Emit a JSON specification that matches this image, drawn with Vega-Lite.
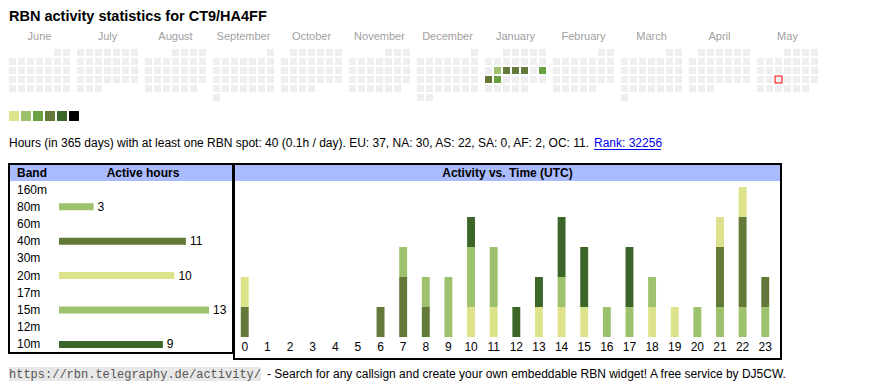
{
  "$schema": "https://vega.github.io/schema/vega-lite/v6.json",
  "padding": {"left": 8, "top": 8, "right": 5, "bottom": 5},
  "background": "#ffffff",
  "config": {
    "font": "Liberation Sans",
    "view": {"stroke": null},
    "text": {"font": "Liberation Sans", "fontSize": 12, "color": "#000000"}
  },
  "title": {
    "text": "RBN activity statistics for CT9/HA4FF",
    "anchor": "start",
    "frame": "group",
    "font": "Liberation Sans",
    "fontSize": 14.5,
    "fontWeight": "bold",
    "color": "#000000",
    "offset": 6
  },
  "resolve": {"scale": {"color": "independent"}},
  "spacing": 10,
  "datasets": {
    "days": [
      {"m":"June","c":5,"r":0},{"m":"June","c":6,"r":0},
      {"m":"June","c":0,"r":1},{"m":"June","c":1,"r":1},{"m":"June","c":2,"r":1},{"m":"June","c":3,"r":1},{"m":"June","c":4,"r":1},{"m":"June","c":5,"r":1},{"m":"June","c":6,"r":1},
      {"m":"June","c":0,"r":2},{"m":"June","c":1,"r":2},{"m":"June","c":2,"r":2},{"m":"June","c":3,"r":2},{"m":"June","c":4,"r":2},{"m":"June","c":5,"r":2},{"m":"June","c":6,"r":2},
      {"m":"June","c":0,"r":3},{"m":"June","c":1,"r":3},{"m":"June","c":2,"r":3},{"m":"June","c":3,"r":3},{"m":"June","c":4,"r":3},{"m":"June","c":5,"r":3},{"m":"June","c":6,"r":3},
      {"m":"June","c":0,"r":4},{"m":"June","c":1,"r":4},{"m":"June","c":2,"r":4},{"m":"June","c":3,"r":4},{"m":"June","c":4,"r":4},{"m":"June","c":5,"r":4},{"m":"June","c":6,"r":4},
      {"m":"July","c":0,"r":0},{"m":"July","c":1,"r":0},{"m":"July","c":2,"r":0},{"m":"July","c":3,"r":0},{"m":"July","c":4,"r":0},{"m":"July","c":5,"r":0},{"m":"July","c":6,"r":0},
      {"m":"July","c":0,"r":1},{"m":"July","c":1,"r":1},{"m":"July","c":2,"r":1},{"m":"July","c":3,"r":1},{"m":"July","c":4,"r":1},{"m":"July","c":5,"r":1},{"m":"July","c":6,"r":1},
      {"m":"July","c":0,"r":2},{"m":"July","c":1,"r":2},{"m":"July","c":2,"r":2},{"m":"July","c":3,"r":2},{"m":"July","c":4,"r":2},{"m":"July","c":5,"r":2},{"m":"July","c":6,"r":2},
      {"m":"July","c":0,"r":3},{"m":"July","c":1,"r":3},{"m":"July","c":2,"r":3},{"m":"July","c":3,"r":3},{"m":"July","c":4,"r":3},{"m":"July","c":5,"r":3},{"m":"July","c":6,"r":3},
      {"m":"July","c":0,"r":4},{"m":"July","c":1,"r":4},{"m":"July","c":2,"r":4},
      {"m":"August","c":3,"r":0},{"m":"August","c":4,"r":0},{"m":"August","c":5,"r":0},{"m":"August","c":6,"r":0},
      {"m":"August","c":0,"r":1},{"m":"August","c":1,"r":1},{"m":"August","c":2,"r":1},{"m":"August","c":3,"r":1},{"m":"August","c":4,"r":1},{"m":"August","c":5,"r":1},{"m":"August","c":6,"r":1},
      {"m":"August","c":0,"r":2},{"m":"August","c":1,"r":2},{"m":"August","c":2,"r":2},{"m":"August","c":3,"r":2},{"m":"August","c":4,"r":2},{"m":"August","c":5,"r":2},{"m":"August","c":6,"r":2},
      {"m":"August","c":0,"r":3},{"m":"August","c":1,"r":3},{"m":"August","c":2,"r":3},{"m":"August","c":3,"r":3},{"m":"August","c":4,"r":3},{"m":"August","c":5,"r":3},{"m":"August","c":6,"r":3},
      {"m":"August","c":0,"r":4},{"m":"August","c":1,"r":4},{"m":"August","c":2,"r":4},{"m":"August","c":3,"r":4},{"m":"August","c":4,"r":4},{"m":"August","c":5,"r":4},
      {"m":"September","c":6,"r":0},
      {"m":"September","c":0,"r":1},{"m":"September","c":1,"r":1},{"m":"September","c":2,"r":1},{"m":"September","c":3,"r":1},{"m":"September","c":4,"r":1},{"m":"September","c":5,"r":1},{"m":"September","c":6,"r":1},
      {"m":"September","c":0,"r":2},{"m":"September","c":1,"r":2},{"m":"September","c":2,"r":2},{"m":"September","c":3,"r":2},{"m":"September","c":4,"r":2},{"m":"September","c":5,"r":2},{"m":"September","c":6,"r":2},
      {"m":"September","c":0,"r":3},{"m":"September","c":1,"r":3},{"m":"September","c":2,"r":3},{"m":"September","c":3,"r":3},{"m":"September","c":4,"r":3},{"m":"September","c":5,"r":3},{"m":"September","c":6,"r":3},
      {"m":"September","c":0,"r":4},{"m":"September","c":1,"r":4},{"m":"September","c":2,"r":4},{"m":"September","c":3,"r":4},{"m":"September","c":4,"r":4},{"m":"September","c":5,"r":4},{"m":"September","c":6,"r":4},
      {"m":"September","c":0,"r":5},
      {"m":"October","c":1,"r":0},{"m":"October","c":2,"r":0},{"m":"October","c":3,"r":0},{"m":"October","c":4,"r":0},{"m":"October","c":5,"r":0},{"m":"October","c":6,"r":0},
      {"m":"October","c":0,"r":1},{"m":"October","c":1,"r":1},{"m":"October","c":2,"r":1},{"m":"October","c":3,"r":1},{"m":"October","c":4,"r":1},{"m":"October","c":5,"r":1},{"m":"October","c":6,"r":1},
      {"m":"October","c":0,"r":2},{"m":"October","c":1,"r":2},{"m":"October","c":2,"r":2},{"m":"October","c":3,"r":2},{"m":"October","c":4,"r":2},{"m":"October","c":5,"r":2},{"m":"October","c":6,"r":2},
      {"m":"October","c":0,"r":3},{"m":"October","c":1,"r":3},{"m":"October","c":2,"r":3},{"m":"October","c":3,"r":3},{"m":"October","c":4,"r":3},{"m":"October","c":5,"r":3},{"m":"October","c":6,"r":3},
      {"m":"October","c":0,"r":4},{"m":"October","c":1,"r":4},{"m":"October","c":2,"r":4},{"m":"October","c":3,"r":4},
      {"m":"November","c":4,"r":0},{"m":"November","c":5,"r":0},{"m":"November","c":6,"r":0},
      {"m":"November","c":0,"r":1},{"m":"November","c":1,"r":1},{"m":"November","c":2,"r":1},{"m":"November","c":3,"r":1},{"m":"November","c":4,"r":1},{"m":"November","c":5,"r":1},{"m":"November","c":6,"r":1},
      {"m":"November","c":0,"r":2},{"m":"November","c":1,"r":2},{"m":"November","c":2,"r":2},{"m":"November","c":3,"r":2},{"m":"November","c":4,"r":2},{"m":"November","c":5,"r":2},{"m":"November","c":6,"r":2},
      {"m":"November","c":0,"r":3},{"m":"November","c":1,"r":3},{"m":"November","c":2,"r":3},{"m":"November","c":3,"r":3},{"m":"November","c":4,"r":3},{"m":"November","c":5,"r":3},{"m":"November","c":6,"r":3},
      {"m":"November","c":0,"r":4},{"m":"November","c":1,"r":4},{"m":"November","c":2,"r":4},{"m":"November","c":3,"r":4},{"m":"November","c":4,"r":4},{"m":"November","c":5,"r":4},
      {"m":"December","c":6,"r":0},
      {"m":"December","c":0,"r":1},{"m":"December","c":1,"r":1},{"m":"December","c":2,"r":1},{"m":"December","c":3,"r":1},{"m":"December","c":4,"r":1},{"m":"December","c":5,"r":1},{"m":"December","c":6,"r":1},
      {"m":"December","c":0,"r":2},{"m":"December","c":1,"r":2},{"m":"December","c":2,"r":2},{"m":"December","c":3,"r":2},{"m":"December","c":4,"r":2},{"m":"December","c":5,"r":2},{"m":"December","c":6,"r":2},
      {"m":"December","c":0,"r":3},{"m":"December","c":1,"r":3},{"m":"December","c":2,"r":3},{"m":"December","c":3,"r":3},{"m":"December","c":4,"r":3},{"m":"December","c":5,"r":3},{"m":"December","c":6,"r":3},
      {"m":"December","c":0,"r":4},{"m":"December","c":1,"r":4},{"m":"December","c":2,"r":4},{"m":"December","c":3,"r":4},{"m":"December","c":4,"r":4},{"m":"December","c":5,"r":4},{"m":"December","c":6,"r":4},
      {"m":"December","c":0,"r":5},{"m":"December","c":1,"r":5},
      {"m":"January","c":2,"r":0},{"m":"January","c":3,"r":0},{"m":"January","c":4,"r":0},{"m":"January","c":5,"r":0},{"m":"January","c":6,"r":0},
      {"m":"January","c":0,"r":1},{"m":"January","c":1,"r":1},{"m":"January","c":2,"r":1},{"m":"January","c":3,"r":1},{"m":"January","c":4,"r":1},{"m":"January","c":5,"r":1},{"m":"January","c":6,"r":1},
      {"m":"January","c":0,"r":2},{"m":"January","c":1,"r":2},{"m":"January","c":2,"r":2},{"m":"January","c":3,"r":2},{"m":"January","c":4,"r":2},{"m":"January","c":5,"r":2},{"m":"January","c":6,"r":2},
      {"m":"January","c":0,"r":3},{"m":"January","c":1,"r":3},{"m":"January","c":2,"r":3},{"m":"January","c":3,"r":3},{"m":"January","c":4,"r":3},{"m":"January","c":5,"r":3},{"m":"January","c":6,"r":3},
      {"m":"January","c":0,"r":4},{"m":"January","c":1,"r":4},{"m":"January","c":2,"r":4},{"m":"January","c":3,"r":4},{"m":"January","c":4,"r":4},
      {"m":"February","c":5,"r":0},{"m":"February","c":6,"r":0},
      {"m":"February","c":0,"r":1},{"m":"February","c":1,"r":1},{"m":"February","c":2,"r":1},{"m":"February","c":3,"r":1},{"m":"February","c":4,"r":1},{"m":"February","c":5,"r":1},{"m":"February","c":6,"r":1},
      {"m":"February","c":0,"r":2},{"m":"February","c":1,"r":2},{"m":"February","c":2,"r":2},{"m":"February","c":3,"r":2},{"m":"February","c":4,"r":2},{"m":"February","c":5,"r":2},{"m":"February","c":6,"r":2},
      {"m":"February","c":0,"r":3},{"m":"February","c":1,"r":3},{"m":"February","c":2,"r":3},{"m":"February","c":3,"r":3},{"m":"February","c":4,"r":3},{"m":"February","c":5,"r":3},{"m":"February","c":6,"r":3},
      {"m":"February","c":0,"r":4},{"m":"February","c":1,"r":4},{"m":"February","c":2,"r":4},{"m":"February","c":3,"r":4},{"m":"February","c":4,"r":4},
      {"m":"March","c":5,"r":0},{"m":"March","c":6,"r":0},
      {"m":"March","c":0,"r":1},{"m":"March","c":1,"r":1},{"m":"March","c":2,"r":1},{"m":"March","c":3,"r":1},{"m":"March","c":4,"r":1},{"m":"March","c":5,"r":1},{"m":"March","c":6,"r":1},
      {"m":"March","c":0,"r":2},{"m":"March","c":1,"r":2},{"m":"March","c":2,"r":2},{"m":"March","c":3,"r":2},{"m":"March","c":4,"r":2},{"m":"March","c":5,"r":2},{"m":"March","c":6,"r":2},
      {"m":"March","c":0,"r":3},{"m":"March","c":1,"r":3},{"m":"March","c":2,"r":3},{"m":"March","c":3,"r":3},{"m":"March","c":4,"r":3},{"m":"March","c":5,"r":3},{"m":"March","c":6,"r":3},
      {"m":"March","c":0,"r":4},{"m":"March","c":1,"r":4},{"m":"March","c":2,"r":4},{"m":"March","c":3,"r":4},{"m":"March","c":4,"r":4},{"m":"March","c":5,"r":4},{"m":"March","c":6,"r":4},
      {"m":"March","c":0,"r":5},
      {"m":"April","c":1,"r":0},{"m":"April","c":2,"r":0},{"m":"April","c":3,"r":0},{"m":"April","c":4,"r":0},{"m":"April","c":5,"r":0},{"m":"April","c":6,"r":0},
      {"m":"April","c":0,"r":1},{"m":"April","c":1,"r":1},{"m":"April","c":2,"r":1},{"m":"April","c":3,"r":1},{"m":"April","c":4,"r":1},{"m":"April","c":5,"r":1},{"m":"April","c":6,"r":1},
      {"m":"April","c":0,"r":2},{"m":"April","c":1,"r":2},{"m":"April","c":2,"r":2},{"m":"April","c":3,"r":2},{"m":"April","c":4,"r":2},{"m":"April","c":5,"r":2},{"m":"April","c":6,"r":2},
      {"m":"April","c":0,"r":3},{"m":"April","c":1,"r":3},{"m":"April","c":2,"r":3},{"m":"April","c":3,"r":3},{"m":"April","c":4,"r":3},{"m":"April","c":5,"r":3},{"m":"April","c":6,"r":3},
      {"m":"April","c":0,"r":4},{"m":"April","c":1,"r":4},{"m":"April","c":2,"r":4},
      {"m":"May","c":3,"r":0},{"m":"May","c":4,"r":0},{"m":"May","c":5,"r":0},{"m":"May","c":6,"r":0},
      {"m":"May","c":0,"r":1},{"m":"May","c":1,"r":1},{"m":"May","c":2,"r":1},{"m":"May","c":3,"r":1},{"m":"May","c":4,"r":1},{"m":"May","c":5,"r":1},{"m":"May","c":6,"r":1},
      {"m":"May","c":0,"r":2},{"m":"May","c":1,"r":2},{"m":"May","c":2,"r":2},{"m":"May","c":3,"r":2},{"m":"May","c":4,"r":2},{"m":"May","c":5,"r":2},{"m":"May","c":6,"r":2},
      {"m":"May","c":0,"r":3},{"m":"May","c":1,"r":3},{"m":"May","c":2,"r":3},{"m":"May","c":3,"r":3},{"m":"May","c":4,"r":3},{"m":"May","c":5,"r":3},{"m":"May","c":6,"r":3},
      {"m":"May","c":0,"r":4},{"m":"May","c":1,"r":4},{"m":"May","c":2,"r":4},{"m":"May","c":3,"r":4},{"m":"May","c":4,"r":4},{"m":"May","c":5,"r":4}
    ],
    "active": [
      {"m":"January","d":14,"c":1,"r":2,"lvl":2},
      {"m":"January","d":15,"c":2,"r":2,"lvl":4},
      {"m":"January","d":16,"c":3,"r":2,"lvl":4},
      {"m":"January","d":17,"c":4,"r":2,"lvl":4},
      {"m":"January","d":19,"c":6,"r":2,"lvl":3},
      {"m":"January","d":20,"c":0,"r":3,"lvl":4},
      {"m":"January","d":21,"c":1,"r":3,"lvl":3}
    ],
    "today": [{"m":"May","d":21,"c":2,"r":3}],
    "levels": [{"lvl":1},{"lvl":2},{"lvl":3},{"lvl":4},{"lvl":5},{"lvl":6}],
    "bands": [
      {"band":"160m","hours":0},{"band":"80m","hours":3},{"band":"60m","hours":0},{"band":"40m","hours":11},{"band":"30m","hours":0},
      {"band":"20m","hours":10},{"band":"17m","hours":0},{"band":"15m","hours":13},{"band":"12m","hours":0},{"band":"10m","hours":9}
    ],
    "hourly": [
      {"h":0,"band":"40m","n":1},{"h":0,"band":"20m","n":1},
      {"h":6,"band":"40m","n":1},
      {"h":7,"band":"40m","n":2},{"h":7,"band":"15m","n":1},
      {"h":8,"band":"40m","n":1},{"h":8,"band":"15m","n":1},
      {"h":9,"band":"15m","n":2},
      {"h":10,"band":"20m","n":1},{"h":10,"band":"15m","n":2},{"h":10,"band":"10m","n":1},
      {"h":11,"band":"20m","n":1},{"h":11,"band":"15m","n":2},
      {"h":12,"band":"10m","n":1},
      {"h":13,"band":"20m","n":1},{"h":13,"band":"10m","n":1},
      {"h":14,"band":"20m","n":1},{"h":14,"band":"15m","n":1},{"h":14,"band":"10m","n":2},
      {"h":15,"band":"20m","n":1},{"h":15,"band":"10m","n":2},
      {"h":16,"band":"15m","n":1},
      {"h":17,"band":"15m","n":1},{"h":17,"band":"10m","n":2},
      {"h":18,"band":"20m","n":1},{"h":18,"band":"15m","n":1},
      {"h":19,"band":"20m","n":1},
      {"h":20,"band":"15m","n":1},
      {"h":21,"band":"80m","n":1},{"h":21,"band":"40m","n":2},{"h":21,"band":"20m","n":1},
      {"h":22,"band":"80m","n":1},{"h":22,"band":"40m","n":3},{"h":22,"band":"20m","n":1},
      {"h":23,"band":"80m","n":1},{"h":23,"band":"40m","n":1}
    ],
    "hours": [
      {"h":0},{"h":1},{"h":2},{"h":3},{"h":4},{"h":5},{"h":6},{"h":7},{"h":8},{"h":9},{"h":10},{"h":11},
      {"h":12},{"h":13},{"h":14},{"h":15},{"h":16},{"h":17},{"h":18},{"h":19},{"h":20},{"h":21},{"h":22},{"h":23}
    ],
    "info": [{"t":"Hours (in 365 days) with at least one RBN spot: 40 (0.1h / day). EU: 37, NA: 30, AS: 22, SA: 0, AF: 2, OC: 11.","link":"Rank: 32256"}],
    "footer": [{"url":"https://rbn.telegraphy.de/activity/","t":"- Search for any callsign and create your own embeddable RBN widget! A free service by DJ5CW."}]
  },
  "vconcat": [
    {
      "width": 809,
      "height": 52,
      "encoding": {
        "x": {"field": "m", "type": "nominal",
          "scale": {"domain": ["June","July","August","September","October","November","December","January","February","March","April","May"], "paddingInner": 0.103, "paddingOuter": 0},
          "axis": {"orient": "top", "title": null, "ticks": false, "domain": false, "labelAngle": 0, "labelFontSize": 11, "labelColor": "#a0a0a0", "labelPadding": 8, "labelFont": "Liberation Sans"}},
        "xOffset": {"field": "c", "type": "nominal", "scale": {"domain": [0,1,2,3,4,5,6], "paddingInner": 0.2222, "paddingOuter": 0}},
        "y": {"field": "r", "type": "ordinal", "scale": {"domain": [0,1,2,3,4,5], "paddingInner": 0.2222, "paddingOuter": 0}, "axis": null}
      },
      "layer": [
        {"data": {"name": "days"}, "mark": {"type": "rect", "color": "#eeeeee"}},
        {"data": {"name": "active"}, "mark": {"type": "rect"},
          "encoding": {"color": {"field": "lvl", "type": "ordinal", "scale": {"domain": [1,2,3,4,5,6], "range": ["#dce38b","#9dc16c","#68a042","#627939","#3b6529","#000000"]}, "legend": null}}},
        {"data": {"name": "today"}, "mark": {"type": "rect", "fill": "#eeeeee", "stroke": "#ff0000", "strokeWidth": 1}}
      ]
    },
    {
      "width": 70,
      "height": 10,
      "data": {"name": "levels"},
      "mark": {"type": "rect"},
      "encoding": {
        "x": {"field": "lvl", "type": "ordinal", "scale": {"paddingInner": 0.1667, "paddingOuter": 0}, "axis": null},
        "color": {"field": "lvl", "type": "ordinal", "scale": {"domain": [1,2,3,4,5,6], "range": ["#dce38b","#9dc16c","#68a042","#627939","#3b6529","#000000"]}, "legend": null}
      }
    },
    {
      "width": 780,
      "height": 22,
      "data": {"name": "info"},
      "layer": [
        {"mark": {"type": "text", "align": "left", "baseline": "middle", "fontSize": 12, "dy": 1},
          "encoding": {"x": {"value": 0}, "text": {"field": "t"}}},
        {"mark": {"type": "text", "align": "left", "baseline": "middle", "fontSize": 12, "color": "#0000ee", "dy": 1},
          "encoding": {"x": {"value": 585}, "text": {"field": "link"}}},
        {"mark": {"type": "rule", "color": "#0000ee", "strokeWidth": 1},
          "encoding": {"x": {"value": 585}, "x2": {"value": 652}, "y": {"value": 18.5}}}
      ]
    },
    {
      "spacing": 7,
      "vconcat": [
        {
          "hconcat": [
            {
              "width": 224,
              "height": 189,
              "view": {"stroke": "#000000", "strokeWidth": 2},
              "layer": [
                {"data": {"values": [{}]}, "mark": {"type": "rect", "color": "#aabbff"},
                  "encoding": {"x": {"value": 1}, "x2": {"value": 223}, "y": {"value": 1}, "y2": {"value": 17}}},
                {"data": {"values": [{}]}, "mark": {"type": "text", "text": "Band", "align": "left", "baseline": "middle", "fontWeight": "bold", "fontSize": 12},
                  "encoding": {"x": {"value": 8}, "y": {"value": 9}}},
                {"data": {"values": [{}]}, "mark": {"type": "text", "text": "Active hours", "align": "center", "baseline": "middle", "fontWeight": "bold", "fontSize": 12},
                  "encoding": {"x": {"value": 134}, "y": {"value": 9}}},
                {"data": {"name": "bands"}, "mark": {"type": "text", "align": "left", "baseline": "middle", "fontSize": 12},
                  "encoding": {
                    "x": {"value": 8},
                    "y": {"field": "band", "type": "nominal", "scale": {"domain": ["160m","80m","60m","40m","30m","20m","17m","15m","12m","10m"], "range": [17, 189], "paddingInner": 0, "paddingOuter": 0}, "axis": null},
                    "text": {"field": "band"}}},
                {"data": {"name": "bands"}, "transform": [{"filter": "datum.hours > 0"}],
                  "mark": {"type": "bar", "size": 7},
                  "encoding": {
                    "x": {"field": "hours", "type": "quantitative", "scale": {"domain": [0, 13], "range": [50, 200]}, "axis": null},
                    "y": {"field": "band", "type": "nominal"},
                    "color": {"field": "band", "type": "nominal", "scale": {"domain": ["80m","40m","20m","15m","10m"], "range": ["#9dc16c","#627939","#dce38b","#9dc16c","#3b6529"]}, "legend": null}}},
                {"data": {"name": "bands"}, "transform": [{"filter": "datum.hours > 0"}],
                  "mark": {"type": "text", "align": "left", "baseline": "middle", "dx": 4, "fontSize": 12},
                  "encoding": {
                    "x": {"field": "hours", "type": "quantitative"},
                    "y": {"field": "band", "type": "nominal"},
                    "text": {"field": "hours"}}}
              ]
            },
            {
              "width": 547,
              "height": 195,
              "view": {"stroke": "#000000", "strokeWidth": 2},
              "layer": [
                {"data": {"values": [{}]}, "mark": {"type": "rect", "color": "#aabbff"},
                  "encoding": {"x": {"value": 1}, "x2": {"value": 546}, "y": {"value": 1}, "y2": {"value": 17}}},
                {"data": {"values": [{}]}, "mark": {"type": "text", "text": "Activity vs. Time (UTC)", "align": "center", "baseline": "middle", "fontWeight": "bold", "fontSize": 12},
                  "encoding": {"x": {"value": 273.5}, "y": {"value": 9}}},
                {"data": {"name": "hourly"},
                  "mark": {"type": "bar"},
                  "encoding": {
                    "x": {"field": "h", "type": "ordinal", "scale": {"domain": [0,1,2,3,4,5,6,7,8,9,10,11,12,13,14,15,16,17,18,19,20,21,22,23], "range": [0, 542], "paddingInner": 0.65, "paddingOuter": 0.3}, "axis": null},
                    "y": {"field": "n", "type": "quantitative", "aggregate": "sum", "stack": "zero", "scale": {"domain": [0, 5], "range": [173, 23]}, "axis": null},
                    "color": {"field": "band", "type": "nominal", "scale": {"domain": ["80m","40m","20m","15m","10m"], "range": ["#9dc16c","#627939","#dce38b","#9dc16c","#3b6529"]}, "legend": null},
                    "order": {"field": "band", "sort": "descending"}}},
                {"data": {"name": "hours"},
                  "mark": {"type": "text", "baseline": "top", "align": "center", "dy": 5, "fontSize": 12},
                  "encoding": {
                    "x": {"field": "h", "type": "ordinal"},
                    "y": {"datum": 0, "type": "quantitative"},
                    "text": {"field": "h"}}}
              ]
            }
          ],
          "spacing": -1
        },
        {
          "hconcat": [
            {
              "width": 252,
              "height": 14,
              "view": {"fill": "#e8e8e8", "stroke": null},
              "data": {"name": "footer"},
              "mark": {"type": "text", "font": "Liberation Mono", "fontSize": 12, "color": "#555555", "align": "center", "baseline": "middle"},
              "encoding": {"text": {"field": "url"}}
            },
            {
              "width": 560,
              "height": 14,
              "data": {"name": "footer"},
              "mark": {"type": "text", "fontSize": 12, "align": "left", "baseline": "middle"},
              "encoding": {"x": {"value": 0}, "text": {"field": "t"}}
            }
          ],
          "spacing": 5
        }
      ]
    }
  ]
}
